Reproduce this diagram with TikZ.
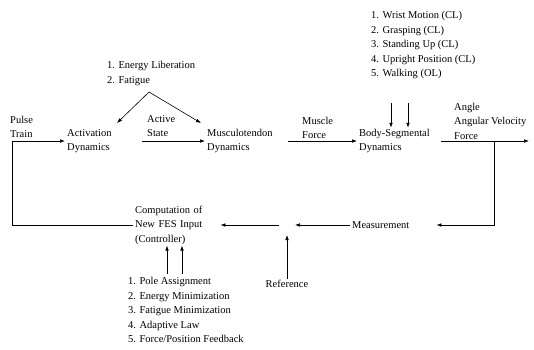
\documentclass[tikz,border=0pt]{standalone}
\usepackage{fontspec}
\setmainfont{Liberation Serif}
\usetikzlibrary{arrows.meta}
\begin{document}
\begin{tikzpicture}[x=1pt,y=-1pt,
  txt/.style={font=\fontsize{10.5}{14.5}\selectfont, align=left, inner xsep=2pt, inner ysep=1pt, anchor=west},
  blk/.style={txt},
  arr/.style={-{Latex[length=5pt,width=3.6pt]}, line width=0.6pt},
  ln/.style={line width=0.6pt}]
\fill[white] (0,0) rectangle (534,349);
\useasboundingbox (0,0) rectangle (534,349);
% blocks
\node[blk, text width=73pt] (act) at (65,141) {Activation\\Dynamics};
\node[blk, text width=79pt] (mus) at (205,141) {Musculotendon\\Dynamics};
\node[blk, text width=80pt] (body) at (357,141) {Body-Segmental\\Dynamics};
\node[blk, text width=83pt] (comp) at (133,225) {Computation of\\New FES Input\\(Controller)};
\node[blk, text width=82pt] (meas) at (350,225) {Measurement};
% labels
\node[txt] (pulse) at (8,127) {Pulse\\Train};
\node[txt] (active) at (145,126) {Active\\State};
\node[txt] (muscle) at (300,128) {Muscle\\Force};
\node[txt] (angle) at (452,121) {Angle\\Angular Velocity\\Force};
\node[txt] (energy) at (105,73.5) {1. Energy Liberation\\2. Fatigue};
\node[txt] (tasks) at (369,45) {1. Wrist Motion (CL)\\2. Grasping (CL)\\3. Standing Up (CL)\\4. Upright Position (CL)\\5. Walking (OL)};
\node[txt] (ctrl) at (126,310) {1. Pole Assignment\\2. Energy Minimization\\3. Fatigue Minimization\\4. Adaptive Law\\5. Force/Position Feedback};
\node[txt, anchor=center] (ref) at (287,284) {Reference};
% coordinates
\coordinate (apex) at (149,92);
\coordinate (tipL) at (117,123);
\coordinate (tipR) at (201,123);
\coordinate (lc) at (12,141);
\coordinate (out) at (529,141);
\coordinate (br) at (494,141);
\coordinate (brd) at (494,225);
\coordinate (sumR) at (295,225);
\coordinate (sumL) at (279,225);
\coordinate (sumB) at (287,235);
\coordinate (d1) at (391,103);
\coordinate (d2) at (408,103);
\coordinate (u1) at (167,274);
\coordinate (u2) at (182,274);
% connectors
\draw[arr] (comp.west) -| (lc) -- (act.west);
\draw[arr] (act.east) -- (mus.west);
\draw[arr] (mus.east) -- (body.west);
\draw[arr] (body.east) -- (out);
\draw[arr] (br) -- (brd) -- (meas.east);
\draw[arr] (meas.west) -- (sumR);
\draw[arr] (sumL) -- (comp.east);
\draw[arr] (ref.north) -- (sumB);
\draw[arr] (apex) -- (tipL);
\draw[arr] (apex) -- (tipR);
\draw[arr] (d1) -- (d1 |- body.north);
\draw[arr] (d2) -- (d2 |- body.north);
\draw[arr] (u1) -- (u1 |- comp.south);
\draw[arr] (u2) -- (u2 |- comp.south);
\end{tikzpicture}
\end{document}
